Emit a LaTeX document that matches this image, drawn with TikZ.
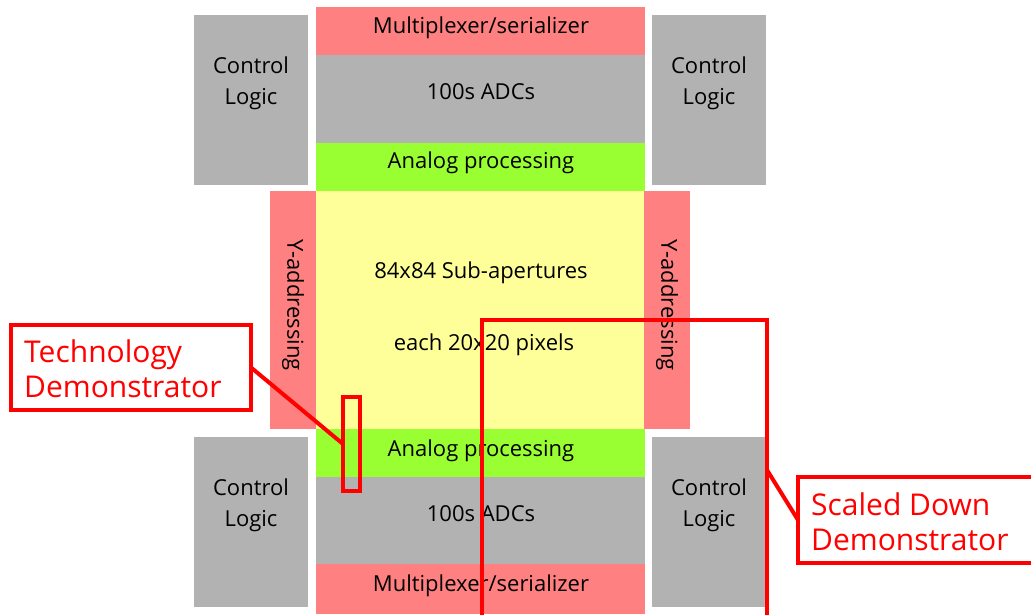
\documentclass[tikz,border=0pt]{standalone}
\usepackage{fontspec}
\setmainfont{Open Sans}
\usetikzlibrary{calc}
\definecolor{pinkc}{HTML}{FF8080}
\definecolor{grayc}{HTML}{B2B2B2}
\definecolor{greenc}{HTML}{99FF33}
\definecolor{yellowc}{HTML}{FFFF99}
\definecolor{redc}{HTML}{FF0000}
\tikzset{
  blk/.style={inner sep=0pt, outer sep=0pt, anchor=north west, draw=none},
  lbl/.style={font=\fontsize{22}{31}\selectfont, text=black, align=center, inner sep=0pt},
  redbox/.style={draw=redc, line width=4pt, inner sep=0pt, outer sep=0pt, anchor=north west},
  redline/.style={draw=redc, line width=4pt},
  redtxt/.style={font=\fontsize{30}{35}\selectfont, text=redc, align=left, inner sep=0pt, anchor=west},
}
\newcommand\blkbox[6]{\node[blk, fill=#6, minimum width=#4pt, minimum height=#5pt] (#1) at (#2,#3) {};}
\begin{document}
\begin{tikzpicture}[x=1pt,y=-1pt]
\useasboundingbox (0,0) rectangle (1031,614);
\fill[white] (0,0) rectangle (1031,614);
\clip (0,0) rectangle (1031,614);
% blocks
\blkbox{cl1}{194}{15}{114}{170}{grayc}
\blkbox{cl2}{652}{15}{114}{170}{grayc}
\blkbox{cl3}{194}{437}{114}{170}{grayc}
\blkbox{cl4}{652}{437}{114}{170}{grayc}
\blkbox{mux1}{316}{7}{329}{48}{pinkc}
\blkbox{adc1}{316}{55}{329}{88}{grayc}
\blkbox{ana1}{316}{143}{329}{48}{greenc}
\blkbox{ya1}{270}{191}{46}{238}{pinkc}
\blkbox{arr}{316}{191}{328}{238}{yellowc}
\blkbox{ya2}{644}{191}{46}{238}{pinkc}
\blkbox{ana2}{316}{429}{329}{48}{greenc}
\blkbox{adc2}{316}{477}{329}{87}{grayc}
\blkbox{mux2}{316}{564}{329}{50}{pinkc}
% labels
\node[lbl] (tcl1) at (251,83) {Control\\Logic};
\node[lbl] (tcl2) at (709,83) {Control\\Logic};
\node[lbl] (tcl3) at (251,505) {Control\\Logic};
\node[lbl] (tcl4) at (709,505) {Control\\Logic};
\node[lbl] (tmux1) at (481,28) {Multiplexer/serializer};
\node[lbl] (tadc1) at (481,92) {100s ADCs};
\node[lbl] (tana1) at (481,163) {Analog processing};
\node[lbl, rotate=-90] (tya1) at (293,305) {Y-addressing};
\node[lbl, rotate=-90] (tya2) at (667,305) {Y-addressing};
\node[lbl] (tarr1) at (481,273) {84x84 Sub-apertures};
\node[lbl] (tarr2) at (484,345) {each 20x20 pixels};
\node[lbl] (tana2) at (481,451) {Analog processing};
\node[lbl] (tadc2) at (481,514) {100s ADCs};
\node[lbl] (tmux2) at (481,586) {Multiplexer/serializer};
% technology demonstrator
\node[redbox, minimum width=17pt, minimum height=94pt] (tdr) at (343,397) {};
\node[redbox, fill=white, minimum width=240pt, minimum height=85pt] (td) at (11,325) {};
\node[redtxt] (tdt) at (24,369) {Technology\\Demonstrator};
\draw[redline] (td.east) -- (tdr.west);
% scaled down demonstrator
\node[redbox, minimum width=285pt, minimum height=400pt] (sdr) at (482,320) {};
\node[redbox, fill=white, minimum width=300pt, minimum height=86pt] (sd) at (798,477) {};
\node[redtxt] (sdt) at (811,522) {Scaled Down\\Demonstrator};
\draw[redline] ($(sdr.north east)+(0,150)$) -- (sd.west);
\end{tikzpicture}
\end{document}
